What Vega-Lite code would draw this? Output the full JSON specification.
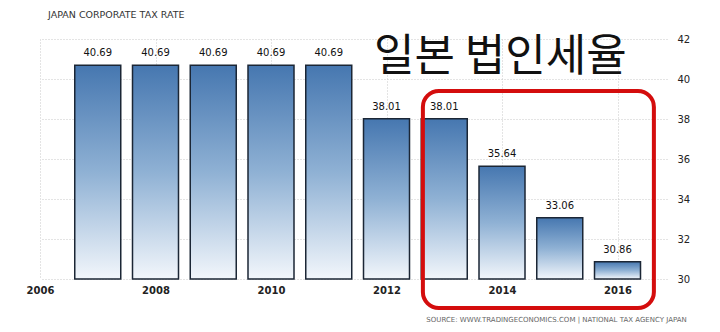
{
  "$schema": "https://vega.github.io/schema/vega-lite/v6.json",
  "width": 627,
  "height": 240,
  "autosize": {"type": "none"},
  "padding": {"left": 40, "top": 39, "right": 53, "bottom": 53},
  "background": "white",
  "title": {
    "text": "JAPAN CORPORATE TAX RATE",
    "anchor": "start",
    "frame": "group",
    "dx": 8,
    "offset": 15,
    "font": "DejaVu Sans",
    "fontSize": 9.5,
    "fontWeight": "normal",
    "color": "#333333"
  },
  "config": {
    "view": {"stroke": null},
    "axis": {
      "labelFont": "DejaVu Sans",
      "labelFontSize": 10,
      "labelColor": "#222222",
      "gridColor": "#c8c8c8",
      "gridDash": [1, 2],
      "domain": false,
      "ticks": false,
      "labelOverlap": false,
      "labelFlush": false
    }
  },
  "encoding": {
    "x": {
      "field": "x", "type": "quantitative",
      "scale": {"domain": [2006, 2016.857], "nice": false, "zero": false, "padding": 0},
      "axis": {"values": [2006, 2008, 2010, 2012, 2014, 2016], "format": "d", "title": null, "grid": true, "labelPadding": 6, "labelFontWeight": "bold", "labelFontSize": 10}
    },
    "y": {
      "field": "y", "type": "quantitative",
      "scale": {"domain": [30, 42], "nice": false, "zero": false, "padding": 0},
      "axis": {"orient": "right", "values": [30, 32, 34, 36, 38, 40, 42], "title": null, "grid": true, "labelPadding": 10, "labelFontSize": 10}
    }
  },
  "layer": [
    {
      "data": {
        "values": [
          {"x": 2007, "y": 40.69},
          {"x": 2008, "y": 40.69},
          {"x": 2009, "y": 40.69},
          {"x": 2010, "y": 40.69},
          {"x": 2011, "y": 40.69},
          {"x": 2012, "y": 38.01},
          {"x": 2013, "y": 38.01},
          {"x": 2014, "y": 35.64},
          {"x": 2015, "y": 33.06},
          {"x": 2016, "y": 30.86}
        ]
      },
      "layer": [
        {
          "mark": {
            "type": "bar",
            "size": 46,
            "stroke": "#1b2635",
            "strokeWidth": 1.5,
            "color": {
              "gradient": "linear",
              "x1": 0, "y1": 0, "x2": 0, "y2": 1,
              "stops": [
                {"offset": 0, "color": "#4677b0"},
                {"offset": 0.5, "color": "#8fb1d4"},
                {"offset": 1, "color": "#f2f6fb"}
              ]
            }
          },
          "encoding": {
            "y2": {"datum": 30}
          }
        },
        {
          "mark": {"type": "text", "baseline": "bottom", "dy": -7, "font": "DejaVu Sans", "fontSize": 10, "color": "#111111"},
          "encoding": {
            "text": {"field": "y", "type": "quantitative", "format": ".2f"}
          }
        }
      ]
    },
    {
      "data": {"values": [{"x": 2012.63, "x2": 2016.63, "y": 39.4, "y2": 28.55}]},
      "mark": {"type": "rect", "fill": null, "fillOpacity": 0, "stroke": "#d40d0d", "strokeWidth": 4, "cornerRadius": 16},
      "encoding": {
        "x2": {"field": "x2"},
        "y2": {"field": "y2"}
      }
    },
    {
      "data": {"values": [{"x": 2013.97, "y": 41.05, "label": "일본 법인세율"}]},
      "mark": {"type": "text", "font": "Noto Sans CJK KR", "fontSize": 44, "fontWeight": "normal", "color": "#111111", "align": "center", "baseline": "middle"},
      "encoding": {
        "text": {"field": "label"}
      }
    },
    {
      "data": {"values": [{"x": 2017.2, "y": 27.95, "label": "SOURCE: WWW.TRADINGECONOMICS.COM | NATIONAL TAX AGENCY JAPAN"}]},
      "mark": {"type": "text", "font": "DejaVu Sans", "fontSize": 7, "color": "#666666", "align": "right", "baseline": "middle"},
      "encoding": {
        "text": {"field": "label"}
      }
    }
  ]
}
